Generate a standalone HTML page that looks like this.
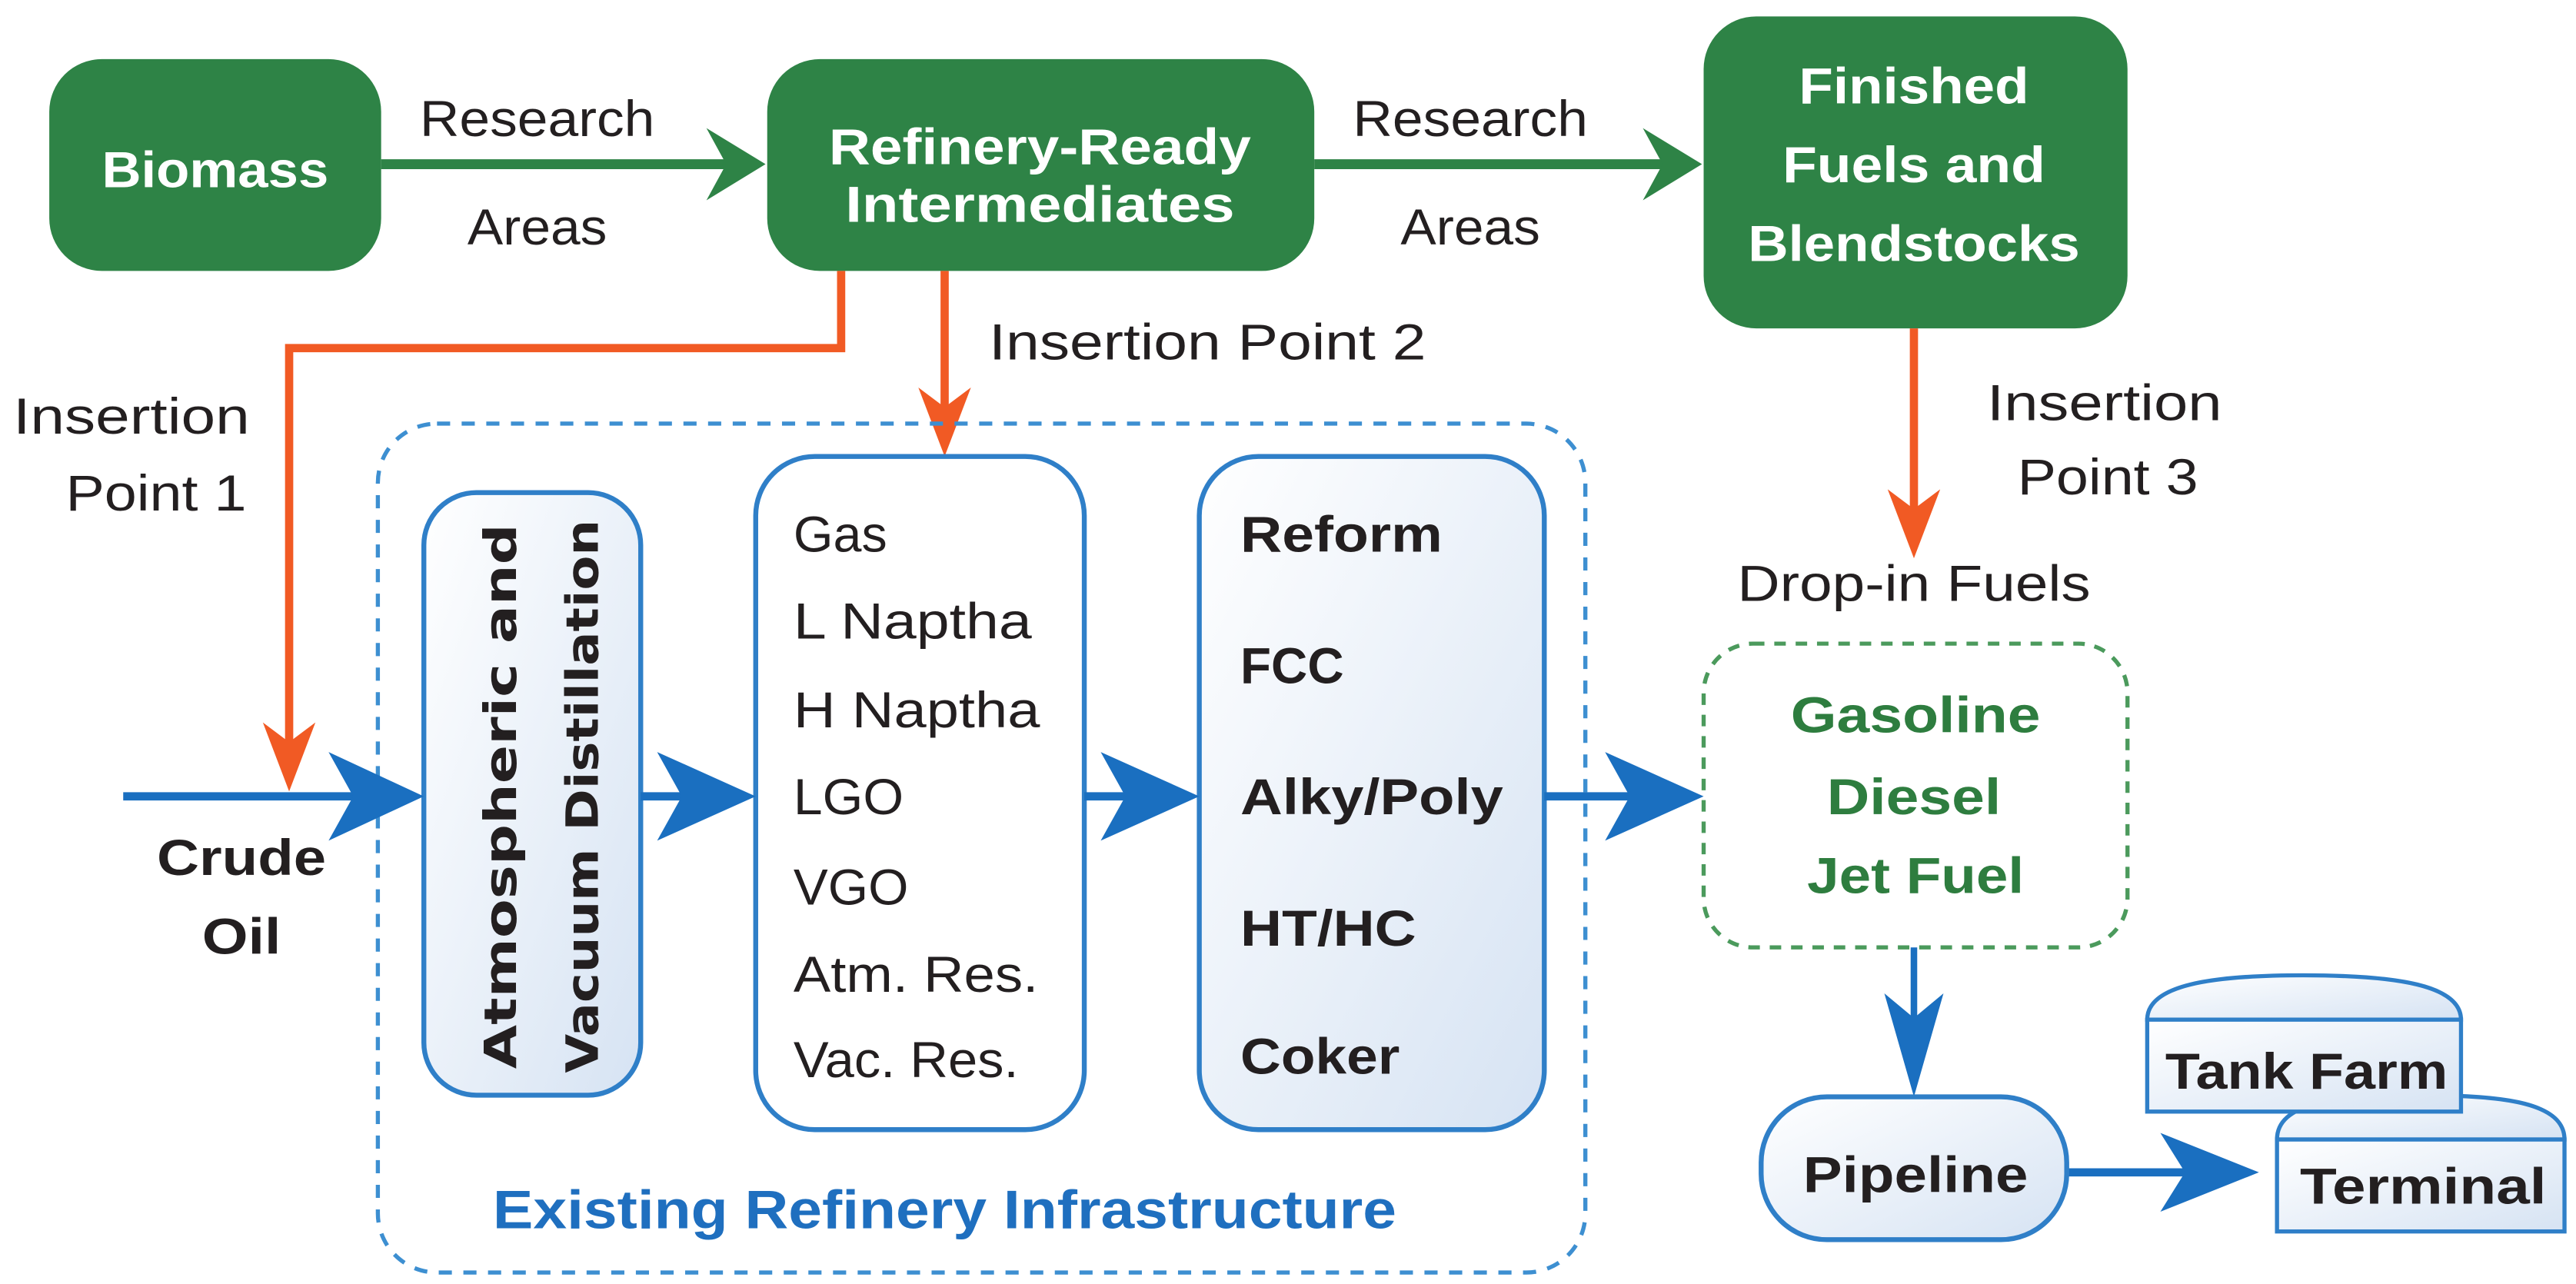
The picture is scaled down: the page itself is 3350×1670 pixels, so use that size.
<!DOCTYPE html>
<html><head><meta charset="utf-8"><style>
html,body{margin:0;padding:0;background:#fff;width:3350px;height:1670px;overflow:hidden}
svg{display:block}
text{font-family:"Liberation Sans Narrow","Liberation Sans",sans-serif;font-size:31px;fill:#231f20}
.w{fill:#fff;font-weight:bold}
.b{font-weight:bold}
.g{fill:#2e7d3f;font-weight:bold}
</style></head><body>
<svg width="3350" height="1670" viewBox="0 0 1568 782" preserveAspectRatio="none" xmlns="http://www.w3.org/2000/svg">
<defs>
<linearGradient id="lg" x1="0" y1="0" x2="1" y2="1">
<stop offset="0" stop-color="#ffffff"/><stop offset="1" stop-color="#d6e3f3"/></linearGradient>
</defs>
<!-- green boxes -->
<rect x="30" y="36" width="202" height="129" rx="32" fill="#2e8346"/>
<rect x="467" y="36" width="333" height="129" rx="32" fill="#2e8346"/>
<rect x="1037" y="10" width="258" height="190" rx="32" fill="#2e8346"/>
<text class="w" x="131" y="114" text-anchor="middle" textLength="138" lengthAdjust="spacingAndGlyphs">Biomass</text>
<text class="w" x="633" y="100" text-anchor="middle" textLength="257" lengthAdjust="spacingAndGlyphs">Refinery-Ready</text>
<text class="w" x="633" y="135" text-anchor="middle" textLength="237" lengthAdjust="spacingAndGlyphs">Intermediates</text>
<text class="w" x="1165" y="63" text-anchor="middle" textLength="140" lengthAdjust="spacingAndGlyphs">Finished</text>
<text class="w" x="1165" y="111" text-anchor="middle" textLength="160" lengthAdjust="spacingAndGlyphs">Fuels and</text>
<text class="w" x="1165" y="159" text-anchor="middle" textLength="202" lengthAdjust="spacingAndGlyphs">Blendstocks</text>
<!-- green arrows -->
<line x1="232" y1="100" x2="450" y2="100" stroke="#2e8346" stroke-width="6"/>
<path d="M466,100 L430,78 L442,100 L430,122 Z" fill="#2e8346"/>
<line x1="800" y1="100" x2="1020" y2="100" stroke="#2e8346" stroke-width="6"/>
<path d="M1036,100 L1000,78 L1012,100 L1000,122 Z" fill="#2e8346"/>
<text x="327" y="83" text-anchor="middle" textLength="143" lengthAdjust="spacingAndGlyphs">Research</text>
<text x="327" y="149" text-anchor="middle" textLength="85" lengthAdjust="spacingAndGlyphs">Areas</text>
<text x="895" y="83" text-anchor="middle" textLength="143" lengthAdjust="spacingAndGlyphs">Research</text>
<text x="895" y="149" text-anchor="middle" textLength="85" lengthAdjust="spacingAndGlyphs">Areas</text>
<!-- orange -->
<polyline points="512,165 512,212 176,212 176,460" fill="none" stroke="#f15a24" stroke-width="5"/>
<path d="M176,482 L160,440 L176,452 L192,440 Z" fill="#f15a24"/>
<line x1="575" y1="165" x2="575" y2="255" stroke="#f15a24" stroke-width="5"/>
<path d="M575,278 L559,236 L575,248 L591,236 Z" fill="#f15a24"/>
<line x1="1165" y1="200" x2="1165" y2="318" stroke="#f15a24" stroke-width="5"/>
<path d="M1165,340 L1149,298 L1165,310 L1181,298 Z" fill="#f15a24"/>
<text x="602" y="219" textLength="266" lengthAdjust="spacingAndGlyphs">Insertion Point 2</text>
<text x="80" y="264" text-anchor="middle" textLength="144" lengthAdjust="spacingAndGlyphs">Insertion</text>
<text x="95" y="311" text-anchor="middle" textLength="110" lengthAdjust="spacingAndGlyphs">Point 1</text>
<text x="1281" y="256" text-anchor="middle" textLength="143" lengthAdjust="spacingAndGlyphs">Insertion</text>
<text x="1283" y="301" text-anchor="middle" textLength="110" lengthAdjust="spacingAndGlyphs">Point 3</text>
<text x="1165" y="366" text-anchor="middle" textLength="215" lengthAdjust="spacingAndGlyphs">Drop-in Fuels</text>
<!-- refinery dashed box -->
<rect x="230" y="258" width="735" height="517" rx="36" fill="none" stroke="#3d8fd1" stroke-width="2.5" stroke-dasharray="8,7"/>
<rect x="258" y="300" width="132" height="367" rx="32" fill="url(#lg)" stroke="#2f7fc8" stroke-width="3"/>
<text class="b" transform="translate(314,485) rotate(-90)" text-anchor="middle" style="font-family:'DejaVu Sans',sans-serif;font-size:27px" textLength="332" lengthAdjust="spacingAndGlyphs">Atmospheric and</text>
<text class="b" transform="translate(364,485) rotate(-90)" text-anchor="middle" style="font-family:'DejaVu Sans',sans-serif;font-size:27px" textLength="337" lengthAdjust="spacingAndGlyphs">Vacuum Distillation</text>
<rect x="460" y="278" width="200" height="410" rx="36" fill="#fff" stroke="#2f7fc8" stroke-width="3"/>
<text x="483" y="336" textLength="57" lengthAdjust="spacingAndGlyphs">Gas</text>
<text x="483" y="389" textLength="145" lengthAdjust="spacingAndGlyphs">L Naptha</text>
<text x="483" y="443" textLength="150" lengthAdjust="spacingAndGlyphs">H Naptha</text>
<text x="483" y="496" textLength="67" lengthAdjust="spacingAndGlyphs">LGO</text>
<text x="483" y="551" textLength="70" lengthAdjust="spacingAndGlyphs">VGO</text>
<text x="483" y="604" textLength="149" lengthAdjust="spacingAndGlyphs">Atm. Res.</text>
<text x="483" y="656" textLength="137" lengthAdjust="spacingAndGlyphs">Vac. Res.</text>
<rect x="730" y="278" width="210" height="410" rx="36" fill="url(#lg)" stroke="#2f7fc8" stroke-width="3"/>
<text class="b" x="755" y="336" textLength="123" lengthAdjust="spacingAndGlyphs">Reform</text>
<text class="b" x="755" y="416" textLength="63" lengthAdjust="spacingAndGlyphs">FCC</text>
<text class="b" x="755" y="496" textLength="160" lengthAdjust="spacingAndGlyphs">Alky/Poly</text>
<text class="b" x="755" y="576" textLength="107" lengthAdjust="spacingAndGlyphs">HT/HC</text>
<text class="b" x="755" y="654" textLength="97" lengthAdjust="spacingAndGlyphs">Coker</text>
<text x="575" y="748" text-anchor="middle" style="fill:#1f6fbf;font-weight:bold;font-size:33px" textLength="550" lengthAdjust="spacingAndGlyphs">Existing Refinery Infrastructure</text>
<!-- blue arrows -->
<g fill="#1a6fc0">
<line x1="75" y1="485" x2="240" y2="485" stroke="#1a6fc0" stroke-width="5"/>
<path d="M258,485 L200,458 L215,485 L200,512 Z"/>
<line x1="390" y1="485" x2="445" y2="485" stroke="#1a6fc0" stroke-width="5"/>
<path d="M460,485 L400,458 L415,485 L400,512 Z"/>
<line x1="660" y1="485" x2="715" y2="485" stroke="#1a6fc0" stroke-width="5"/>
<path d="M730,485 L670,458 L685,485 L670,512 Z"/>
<line x1="940" y1="485" x2="1020" y2="485" stroke="#1a6fc0" stroke-width="5"/>
<path d="M1037,485 L977,458 L992,485 L977,512 Z"/>
<line x1="1165" y1="577" x2="1165" y2="650" stroke="#1a6fc0" stroke-width="4"/>
<path d="M1165,668 L1147,605 L1165,620 L1183,605 Z"/>
<line x1="1258" y1="714" x2="1355" y2="714" stroke="#1a6fc0" stroke-width="5"/>
<path d="M1375,714 L1315,690 L1330,714 L1315,738 Z"/>
</g>
<text class="b" x="147" y="533" text-anchor="middle" textLength="103" lengthAdjust="spacingAndGlyphs">Crude</text>
<text class="b" x="147" y="581" text-anchor="middle" textLength="48" lengthAdjust="spacingAndGlyphs">Oil</text>
<!-- drop-in -->
<rect x="1037" y="392" width="258" height="185" rx="30" fill="none" stroke="#4b9a5c" stroke-width="2.5" stroke-dasharray="7,6"/>
<text class="g" x="1166" y="446" text-anchor="middle" textLength="152" lengthAdjust="spacingAndGlyphs">Gasoline</text>
<text class="g" x="1165" y="496" text-anchor="middle" textLength="106" lengthAdjust="spacingAndGlyphs">Diesel</text>
<text class="g" x="1166" y="544" text-anchor="middle" textLength="132" lengthAdjust="spacingAndGlyphs">Jet Fuel</text>
<!-- pipeline -->
<rect x="1072" y="668" width="186" height="87" rx="40" fill="url(#lg)" stroke="#2f7fc8" stroke-width="3"/>
<text class="b" x="1166" y="726" text-anchor="middle" textLength="137" lengthAdjust="spacingAndGlyphs">Pipeline</text>
<!-- Terminal tank (behind) -->
<path d="M1386,694 C1386,672 1420,667 1473,667 C1526,667 1561,672 1561,694 Z" fill="url(#lg)" stroke="#2f7fc8" stroke-width="2.5"/>
<rect x="1386" y="694" width="175" height="56" fill="url(#lg)" stroke="#2f7fc8" stroke-width="2.5"/>
<!-- Tank Farm tank -->
<path d="M1307,621 C1307,600 1345,594 1402,594 C1459,594 1498,600 1498,621 Z" fill="url(#lg)" stroke="#2f7fc8" stroke-width="2.5"/>
<rect x="1307" y="621" width="191" height="56" fill="url(#lg)" stroke="#2f7fc8" stroke-width="2.5"/>
<text class="b" x="1404" y="663" text-anchor="middle" textLength="172" lengthAdjust="spacingAndGlyphs">Tank Farm</text>
<text class="b" x="1475" y="733" text-anchor="middle" textLength="150" lengthAdjust="spacingAndGlyphs">Terminal</text>
</svg>
</body></html>
